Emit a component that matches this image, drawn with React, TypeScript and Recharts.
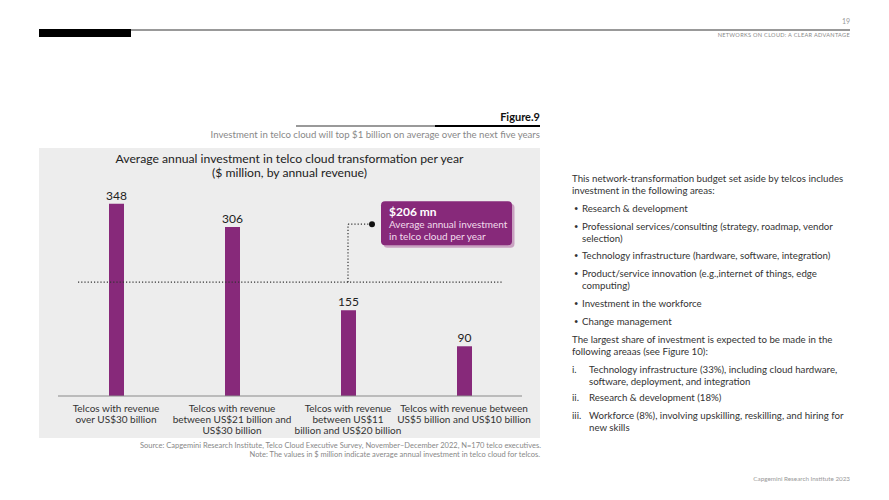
import React from "react";
import { BarChart, Bar, XAxis, YAxis, LabelList, ReferenceLine } from "recharts";

const FONT = "Lato, 'Open Sans', sans-serif";
const PURPLE = "#87297a";

const categoryKeys = ["over30", "21to30", "11to20", "5to10"];
const categoryLines: string[][] = [
  ["Telcos with revenue", "over US$30 billion"],
  ["Telcos with revenue", "between US$21 billion and", "US$30 billion"],
  ["Telcos with revenue", "between US$11", "billion and US$20 billion"],
  ["Telcos with revenue between", "US$5 billion and US$10 billion"],
];
const investment = [348, 306, 155, 90];
const averageInvestment = 206;
const yDomain: [number, number] = [0, 400];

const data = categoryKeys.map((k, i) => ({ key: k, value: investment[i] }));

const CategoryTick = (props: any) => {
  const { x, y, payload } = props;
  const idx = categoryKeys.indexOf(payload.value);
  const lines = categoryLines[idx] || [];
  return (
    <text x={x} y={y} textAnchor="middle" fill="#333" fontSize={10} fontFamily={FONT}>
      {lines.map((l, i) => (
        <tspan key={i} x={x} dy={i === 0 ? 16 : 11}>
          {l}
        </tspan>
      ))}
    </text>
  );
};

const AvgLine = (props: any) => {
  const { x1, x2, y1 } = props;
  const w = x2 - x1;
  const cx3 = x1 + (w * 2.5) / 4;
  const topY = y1 - 58;
  const dotX = cx3 + 24;
  const boxX = cx3 + 33;
  const boxY = y1 - 81;
  return (
    <g>
      <line x1={x1 + 20} x2={x2 - 19} y1={y1} y2={y1} stroke="#333" strokeWidth={1.2} strokeDasharray="1.2 2" />
      <line x1={cx3} x2={cx3} y1={y1} y2={topY} stroke="#333" strokeWidth={1.2} strokeDasharray="1.2 2" />
      <line x1={cx3} x2={dotX} y1={topY} y2={topY} stroke="#333" strokeWidth={1.2} strokeDasharray="1.2 2" />
      <circle cx={dotX} cy={topY} r={3} fill="#111" />
      <rect x={boxX + 2.5} y={boxY + 2.5} width={131} height={44} rx={4} fill="#c9a1c1" />
      <rect x={boxX} y={boxY} width={131} height={44} rx={4} fill={PURPLE} />
      <text x={boxX + 8} y={boxY + 15} fill="#fff" fontSize={12} fontWeight={700} fontFamily={FONT}>
        ${averageInvestment} mn
      </text>
      <text x={boxX + 8} y={boxY + 27} fill="#f2dcec" fontSize={10} fontFamily={FONT}>
        Average annual investment
      </text>
      <text x={boxX + 8} y={boxY + 39} fill="#f2dcec" fontSize={10} fontFamily={FONT}>
        in telco cloud per year
      </text>
    </g>
  );
};

const abs = (left: number, top: number, extra: React.CSSProperties = {}): React.CSSProperties => ({
  position: "absolute",
  left,
  top,
  whiteSpace: "nowrap",
  fontFamily: FONT,
  ...extra,
});

const bodyText: React.CSSProperties = { fontSize: 9.7, color: "#333", lineHeight: "12px" };

const bullets: string[][] = [
  ["Research & development"],
  ["Professional services/consulting (strategy, roadmap, vendor", "selection)"],
  ["Technology infrastructure (hardware, software, integration)"],
  ["Product/service innovation (e.g.,internet of things, edge", "computing)"],
  ["Investment in the workforce"],
  ["Change management"],
];
const bulletTops = [202, 220, 249, 267, 297, 315];

const numbered: [string, string[]][] = [
  ["i.", ["Technology infrastructure (33%), including cloud hardware,", "software, deployment, and integration"]],
  ["ii.", ["Research & development (18%)"]],
  ["iii.", ["Workforce (8%), involving upskilling, reskilling, and hiring for", "new skills"]],
];
const numberedTops = [363, 391, 409];

export default function App() {
  return (
    <div style={{ position: "absolute", left: 0, top: 0, width: 889, height: 500, background: "#fff", overflow: "hidden" }}>
      {/* header */}
      <div style={abs(830, 17, { width: 20, textAlign: "right", fontSize: 7, color: "#999" })}>19</div>
      <div style={{ position: "absolute", left: 131, top: 29, width: 719, height: 1.5, background: "#999" }} />
      <div style={{ position: "absolute", left: 39, top: 29, width: 92, height: 8, background: "#000" }} />
      <div style={abs(600, 31, { width: 250, textAlign: "right", fontSize: 5.6, color: "#888", letterSpacing: 0.3 })}>
        NETWORKS ON CLOUD: A CLEAR ADVANTAGE
      </div>

      {/* figure heading */}
      <div style={abs(340, 110, { width: 200, textAlign: "right", fontSize: 11, fontWeight: 700, color: "#111" })}>Figure.9</div>
      <div style={{ position: "absolute", left: 296, top: 125, width: 139, height: 1.5, background: "#999" }} />
      <div style={{ position: "absolute", left: 435, top: 124.5, width: 105, height: 2.5, background: "#000" }} />
      <div style={abs(140, 129, { width: 400, textAlign: "right", fontSize: 9.6, color: "#888" })}>
        Investment in telco cloud will top $1 billion on average over the next five years
      </div>

      {/* chart box */}
      <div style={{ position: "absolute", left: 39, top: 148, width: 501, height: 290, background: "#ededed" }} />
      <div style={abs(39, 152, { width: 501, textAlign: "center", fontSize: 12.2, color: "#222", lineHeight: "14px" })}>
        Average annual investment in telco cloud transformation per year
        <br />($ million, by annual revenue)
      </div>
      <div style={{ position: "absolute", left: 39, top: 148 }}>
        <BarChart width={501} height={290} data={data} margin={{ top: 27, right: 18, left: 19, bottom: 0 }}>
          <YAxis hide domain={yDomain} />
          <XAxis
            dataKey="key"
            height={42}
            interval={0}
            tickLine={false}
            tickSize={0}
            tickMargin={0}
            axisLine={{ stroke: "#8a8a8a", strokeWidth: 1.2 }}
            tick={<CategoryTick />}
          />
          <ReferenceLine y={averageInvestment} shape={<AvgLine />} ifOverflow="visible" />
          <Bar dataKey="value" fill={PURPLE} barSize={15} isAnimationActive={false}>
            <LabelList dataKey="value" position="top" offset={4} fill="#222" fontSize={12} fontFamily={FONT} />
          </Bar>
        </BarChart>
      </div>

      {/* source */}
      <div style={abs(140, 441, { width: 400, textAlign: "right", fontSize: 7.5, color: "#888", lineHeight: "9px" })}>
        Source: Capgemini Research Institute, Telco Cloud Executive Survey, November–December 2022, N=170 telco executives.
        <br />
        Note: The values in $ million indicate average annual investment in telco cloud for telcos.
      </div>

      {/* right column */}
      <div style={abs(572, 172, bodyText)}>
        This network-transformation budget set aside by telcos includes
        <br />
        investment in the following areas:
      </div>
      {bullets.map((lines, i) => (
        <React.Fragment key={i}>
          <div style={abs(574, bulletTops[i] + 1, { ...bodyText, fontSize: 7.5 })}>•</div>
          <div style={abs(582, bulletTops[i], bodyText)}>
            {lines.map((l, j) => (
              <div key={j}>{l}</div>
            ))}
          </div>
        </React.Fragment>
      ))}
      <div style={abs(572, 333, bodyText)}>
        The largest share of investment is expected to be made in the
        <br />
        following areaas (see Figure 10):
      </div>
      {numbered.map(([n, lines], i) => (
        <React.Fragment key={i}>
          <div style={abs(572, numberedTops[i], bodyText)}>{n}</div>
          <div style={abs(589, numberedTops[i], bodyText)}>
            {lines.map((l, j) => (
              <div key={j}>{l}</div>
            ))}
          </div>
        </React.Fragment>
      ))}

      <div style={abs(650, 475, { width: 200, textAlign: "right", fontSize: 6.3, color: "#999" })}>
        Capgemini Research Institute 2023
      </div>
    </div>
  );
}
